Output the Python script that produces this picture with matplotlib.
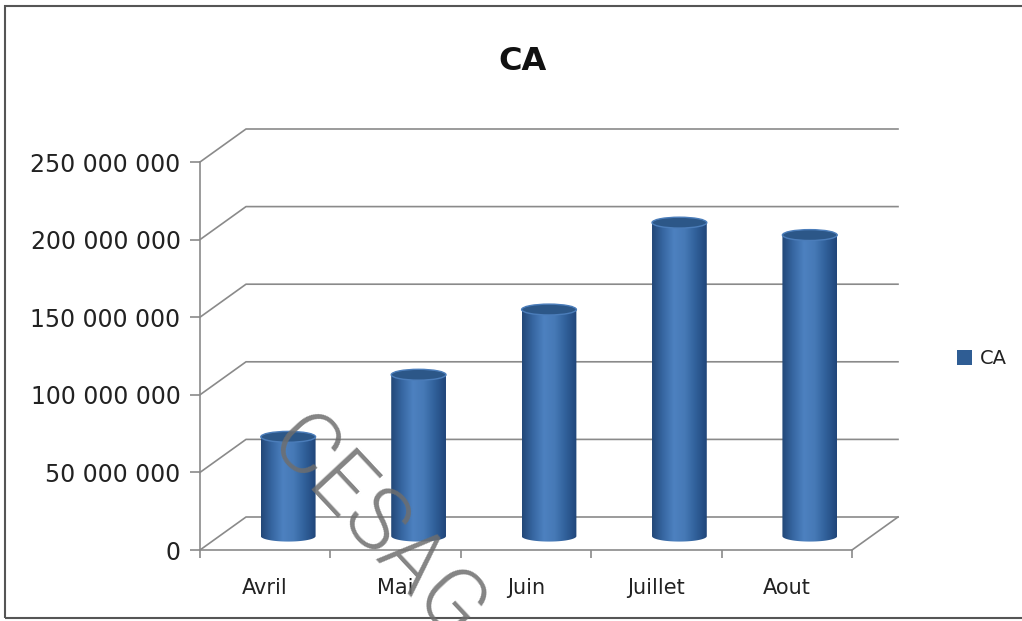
import numpy as np
import matplotlib
matplotlib.use("Agg")
import matplotlib.pyplot as plt
from matplotlib.patches import Ellipse, PathPatch, Patch, Rectangle
from matplotlib.path import Path
from matplotlib.colors import LinearSegmentedColormap

# donnees du graphique
mois = ["Avril", "Mai", "Juin", "Juillet", "Aout"]
ca = [64e6, 104e6, 146e6, 202e6, 194e6]
graduations = [0, 50e6, 100e6, 150e6, 200e6, 250e6]

plt.rcParams['font.family'] = ['DejaVu Sans']

gris = '#8a8a8a'
n = len(mois)

fig = plt.figure(figsize=(10.22, 6.21), dpi=100)
fig.patch.set_facecolor('white')
ax = fig.add_axes([200 / 1022, 71 / 621, 652 / 1022, 388 / 621])
ax.set_xlim(0, n)
ax.set_ylim(0, graduations[-1])
ax.patch.set_visible(False)

# decalage de profondeur (effet 3D) en unites de donnees
inv = ax.transData.inverted()
prof_x, prof_y = inv.transform((46, 33)) - inv.transform((0, 0))

# mur du fond + sol
for v in graduations:
    ax.plot([0, prof_x, n + prof_x], [v, v + prof_y, v + prof_y],
            color=gris, lw=1.2, clip_on=False, zorder=1)
ax.plot([n, n + prof_x], [0, prof_y], color=gris, lw=1.2, clip_on=False, zorder=1)

# cylindres
cmap = LinearSegmentedColormap.from_list(
    'cyl', ['#234878', '#3767a2', '#4d81c0', '#4679b6', '#30609a', '#21467a'])
larg = 0.42
eh = 0.028 * graduations[-1]
bx, by = prof_x / 2, prof_y * 0.42
t = np.linspace(np.pi, 2 * np.pi, 60)
for i, v in enumerate(ca):
    xc = i + 0.5 + bx
    y0 = by
    y1 = v + by
    verts = [(xc - larg / 2, y1)]
    verts += list(zip(xc + larg / 2 * np.cos(t), y0 + eh / 2 * np.sin(t)))
    verts += [(xc + larg / 2, y1), (xc - larg / 2, y1)]
    corps = PathPatch(Path(verts, closed=True), facecolor='none', edgecolor='none')
    ax.add_patch(corps)
    im = ax.imshow(np.linspace(0, 1, 100)[None, :], cmap=cmap, aspect='auto',
                   extent=(xc - larg / 2, xc + larg / 2, y0 - eh / 2, y1), zorder=2)
    im.set_clip_path(corps)
    ax.add_patch(Ellipse((xc, y1), larg, eh, facecolor='#2c5788',
                         edgecolor='#4b7dba', lw=1, zorder=3))

ax.set_xlim(0, n)
ax.set_ylim(0, graduations[-1])

# axes
for s in ['top', 'right']:
    ax.spines[s].set_visible(False)
for s in ['left', 'bottom']:
    ax.spines[s].set_color(gris)
    ax.spines[s].set_linewidth(1.2)

ax.set_yticks(graduations)
ax.set_yticklabels([f"{int(v):,}".replace(",", " ") for v in graduations])
ax.tick_params(axis='y', direction='out', length=7, width=1.2, color=gris,
               pad=7, labelsize=17, labelcolor='#222222')

ax.set_xticks(range(n + 1))
ax.set_xticklabels([])
ax.set_xticks([i + 0.5 for i in range(n)], minor=True)
ax.set_xticklabels(mois, minor=True)
ax.tick_params(axis='x', which='major', direction='out', length=6, width=1.2, color=gris)
ax.tick_params(axis='x', which='minor', length=0, pad=20, labelsize=15, labelcolor='#222222')

fig.text(522 / 1022, 1 - 62 / 621, 'CA', ha='center', va='center',
         fontsize=23, fontweight='bold', color='#111111')

ax.legend(handles=[Patch(facecolor='#2f5d94', label='CA')], loc='center left',
          bbox_to_anchor=(947 / 1022, 1 - 359 / 621), bbox_transform=fig.transFigure,
          frameon=False, fontsize=14, handlelength=0.8, handleheight=0.8,
          handletextpad=0.4, borderpad=0, labelcolor='#222222')

# filigrane
fig.text(376 / 1022, 1 - 530 / 621, 'CESAG', rotation=-47, ha='center', va='center',
         fontsize=63, family='Roboto', fontweight=300, color='#6e6e6e',
         alpha=0.85, zorder=10)

# cadre
fig.add_artist(Rectangle((5 / 1022, 3 / 621), 1.2, 612 / 621, transform=fig.transFigure,
                         fill=False, edgecolor='#555555', lw=1.5))

fig.savefig('out.png', dpi=100)
